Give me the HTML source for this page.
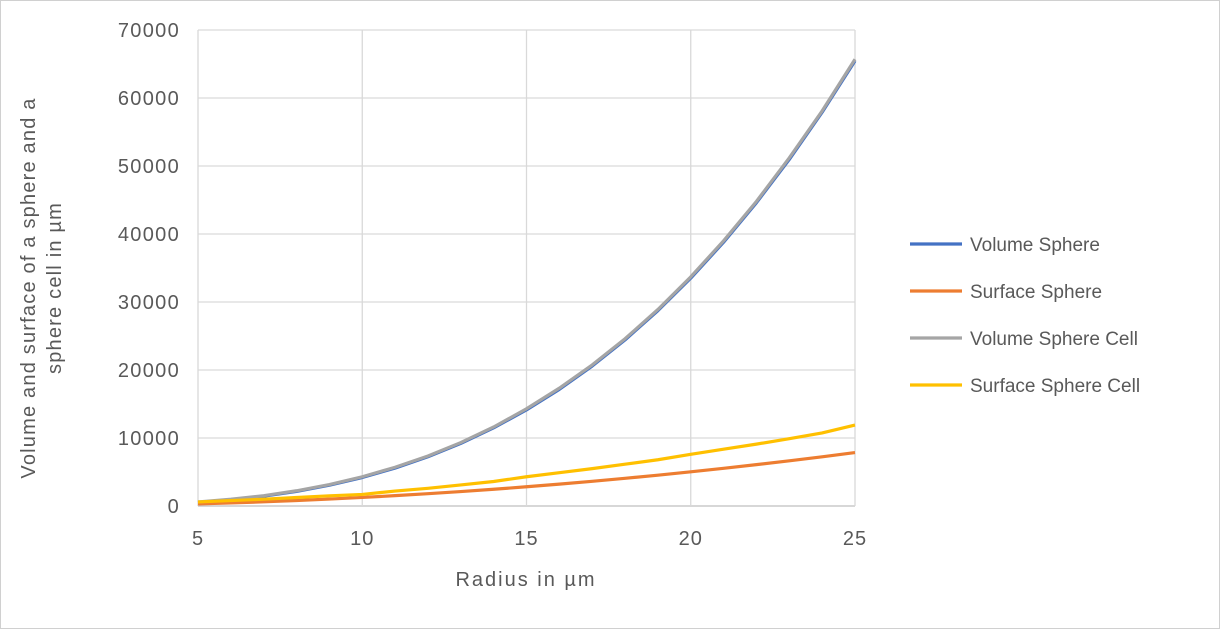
<!DOCTYPE html>
<html><head><meta charset="utf-8"><style>
body{margin:0;background:#fff;}
svg{display:block;font-family:"Liberation Sans",sans-serif;}
</style></head><body>
<svg id="chart" width="1221" height="630">
<rect x="0.5" y="0.5" width="1219" height="628" fill="#fff" stroke="#d0d0d0"/>
<g id="grid"></g><g id="series"></g><g id="labels"></g>
<text transform="translate(40,288) rotate(-90)" text-anchor="middle" font-size="20" letter-spacing="1.2" fill="#595959"><tspan x="0" dy="-5">Volume and surface of a sphere and a</tspan><tspan x="0" dy="26">sphere cell in µm</tspan></text>
<text x="526" y="586" text-anchor="middle" font-size="20" letter-spacing="2" fill="#595959">Radius in µm</text>
<g id="legend"></g>
</svg>
<script>
const radii=[5,6,7,8,9,10,11,12,13,14,15,16,17,18,19,20,21,22,23,24,25];
const volumeSphere=[524,905,1437,2145,3054,4189,5575,7238,9203,11494,14137,17157,20580,24429,28731,33510,38792,44602,50965,57906,65450];
const surfaceSphere=[314,452,616,804,1018,1257,1521,1810,2124,2463,2827,3217,3632,4072,4536,5027,5542,6082,6648,7238,7854];
const volumeSphereCell=[600,990,1520,2240,3150,4300,5700,7350,9330,11620,14300,17330,20750,24600,28900,33700,39000,44800,51200,58100,65700];
const surfaceSphereCell=[600,800,1000,1250,1500,1700,2200,2600,3100,3600,4300,4900,5500,6150,6800,7600,8350,9100,9900,10750,11900];
const yTicks=[0,10000,20000,30000,40000,50000,60000,70000];
const xTicks=[5,10,15,20,25];
const NS='http://www.w3.org/2000/svg';
const X=v=>198+(v-5)/20*657;
const Y=v=>506-v/70000*476;
function mk(t,a,p){const e=document.createElementNS(NS,t);for(const k in a)e.setAttribute(k,a[k]);p.appendChild(e);return e;}
const grid=document.getElementById('grid'),lab=document.getElementById('labels');
yTicks.forEach(v=>{
 const l=mk('line',{x1:198,x2:855,y1:Y(v),y2:Y(v),stroke:v===0?'#bfbfbf':'#d9d9d9','stroke-width':1.3},grid);
 
 
 const t=mk('text',{x:180,y:Y(v)+7,'text-anchor':'end','font-size':20,'letter-spacing':1.3,fill:'#595959'},lab);t.textContent=v;
 
 
});
xTicks.forEach(v=>{
 const l=mk('line',{x1:X(v),x2:X(v),y1:30,y2:506,stroke:'#d9d9d9','stroke-width':1.3},grid);
 
 
 const t=mk('text',{x:X(v),y:545,'text-anchor':'middle','font-size':20,'letter-spacing':1,fill:'#595959'},lab);t.textContent=v;
 
 
});
const ser=[['Volume Sphere',volumeSphere,'#4472c4'],['Surface Sphere',surfaceSphere,'#ed7d31'],['Volume Sphere Cell',volumeSphereCell,'#a5a5a5'],['Surface Sphere Cell',surfaceSphereCell,'#ffc000']];
const sg=document.getElementById('series'),lg=document.getElementById('legend');
ser.forEach((s,i)=>{
 const p=mk('polyline',{points:radii.map((r,j)=>X(r)+','+Y(s[1][j])).join(' '),fill:'none',stroke:s[2],'stroke-width':3.2,'stroke-linejoin':'round'},sg);
 
 
 const y=244+i*47;
 const g=mk('g',{},lg);
 
 
 mk('line',{x1:910,x2:962,y1:y,y2:y,stroke:s[2],'stroke-width':3.2},g);
 const t=mk('text',{x:970,y:y+7,'font-size':19,fill:'#595959'},g);t.textContent=s[0];
});
</script>
</body></html>
